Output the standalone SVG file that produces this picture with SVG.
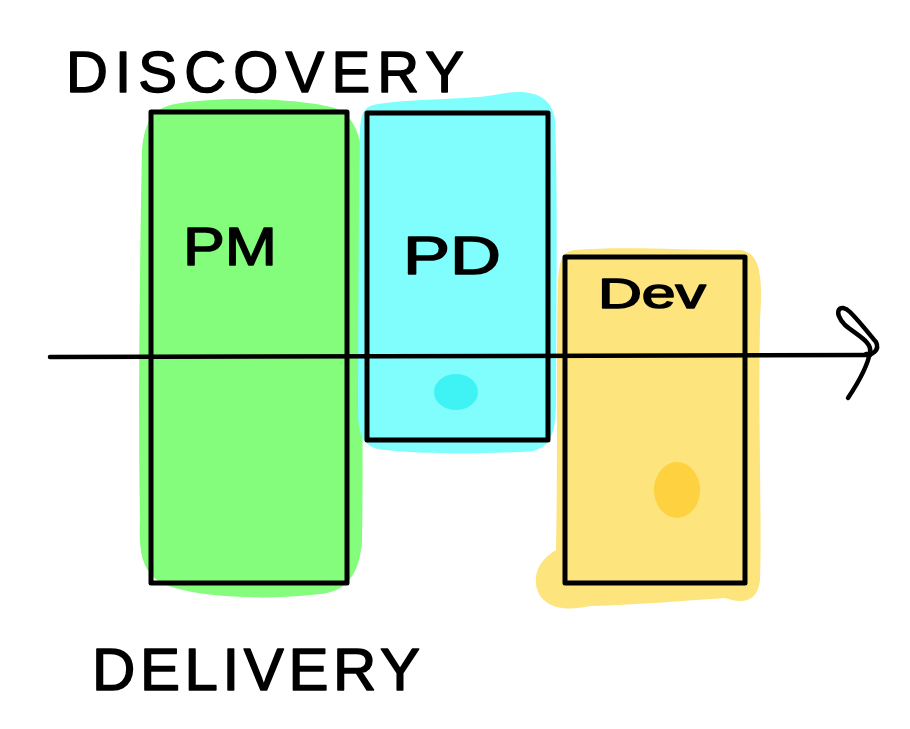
<svg xmlns="http://www.w3.org/2000/svg" width="910" height="729" viewBox="0 0 910 729">
<style>
.box{fill:none;stroke:#000;stroke-width:5;stroke-linejoin:round}
.ink{fill:none;stroke:#000;stroke-width:4.5;stroke-linecap:round;stroke-linejoin:round}
.hand{font-family:"Liberation Sans",Arial,sans-serif;fill:#000;stroke:#000;stroke-width:1.5;stroke-linejoin:round}
</style>
<rect width="910" height="729" fill="#fff"/>
<g id="labels">
<text class="hand" x="66" y="92" font-size="58" textLength="398" lengthAdjust="spacing">DISCOVERY</text>
<text class="hand" x="92" y="690" font-size="60" textLength="328" lengthAdjust="spacing">DELIVERY</text>
</g>
<g id="pm">
<path d="M175 104 C220 96 300 98 335 108 C360 118 366 150 362 200 C360 300 364 420 362 540 C360 575 345 592 320 594 C270 600 210 598 175 588 C145 580 138 560 140 520 C138 400 140 250 142 150 C145 118 155 108 175 104 Z" fill="#84fc7c"/>
<rect class="box" x="151" y="112" width="196" height="471"/>
<text class="hand" x="183" y="265" font-size="54" textLength="94" lengthAdjust="spacingAndGlyphs">PM</text>
</g>
<g id="pd">
<path d="M378 104 C420 98 470 100 500 94 C530 88 552 95 555 120 C558 200 556 300 556 400 C556 440 548 452 520 452 C470 454 420 454 385 450 C362 448 358 435 358 410 C358 300 359 200 360 130 C361 110 366 106 378 104 Z" fill="#80fdfd"/>
<ellipse cx="456" cy="392" rx="22" ry="18" fill="#3ff3f5"/>
<rect class="box" x="367" y="113" width="181" height="327"/>
<text class="hand" x="403" y="274" font-size="54" textLength="98" lengthAdjust="spacingAndGlyphs">PD</text>
</g>
<g id="dev">
<path d="M575 250 C620 246 680 250 740 250 C760 252 763 275 760 320 C758 420 762 520 760 580 C758 600 745 605 725 598 C690 600 640 605 590 606 C565 612 540 608 536 585 C534 565 548 555 556 550 C558 450 556 350 558 280 C560 258 562 252 575 250 Z" fill="#fde47d"/>
<ellipse cx="677" cy="490" rx="23" ry="28" fill="#fdd13f"/>
<rect class="box" x="565" y="257" width="180" height="326"/>
<text class="hand" x="598" y="308" font-size="42" textLength="108" lengthAdjust="spacingAndGlyphs">Dev</text>
</g>
<g id="connectors">
<path class="ink" d="M50 357 L870 355"/>
<path class="ink" d="M848 398 C860 380 868 365 870 352 C872 342 858 336 845 325 C832 312 840 302 850 312 C860 322 870 335 876 342 C880 350 872 356 866 354"/>
</g>
</svg>
